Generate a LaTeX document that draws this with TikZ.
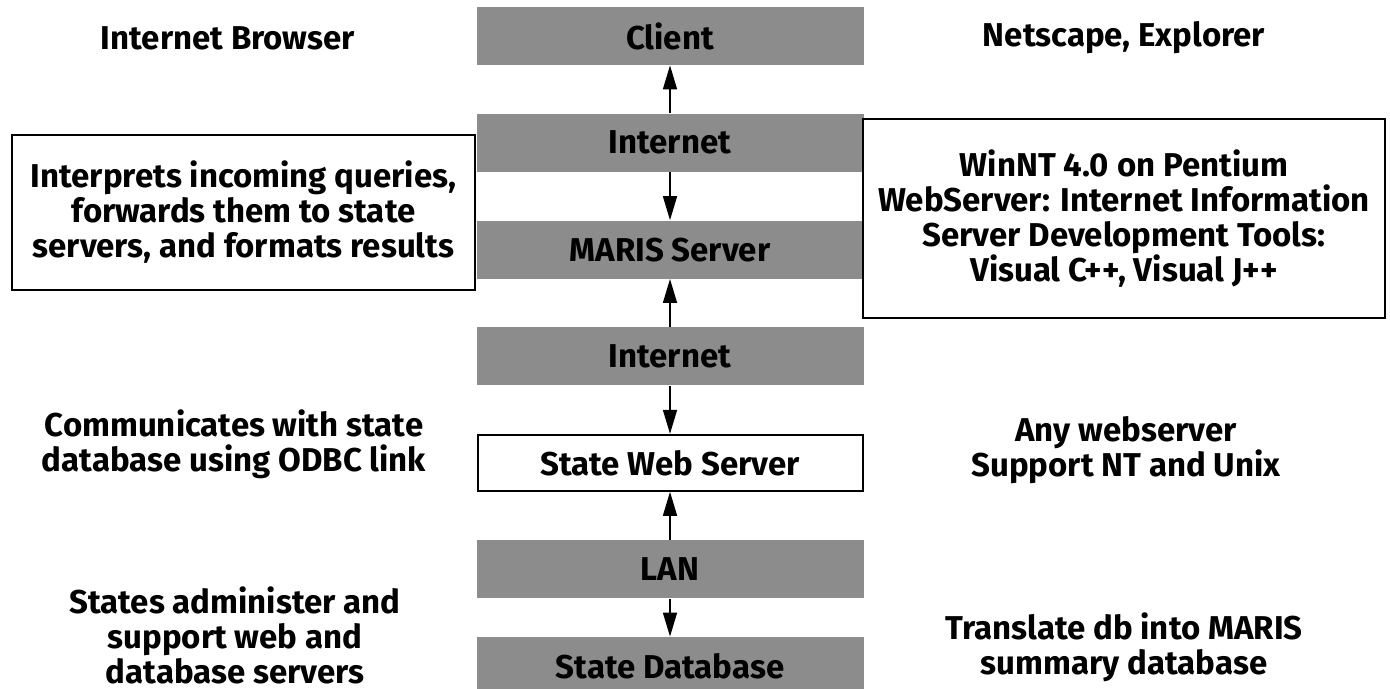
\documentclass[tikz,border=0pt]{standalone}
\usepackage{fontspec}
\setmainfont{Fira Sans}
\usetikzlibrary{positioning}
\usetikzlibrary{arrows.meta}

\tikzset{
  layer/.style={fill=black!45, minimum width=193.5pt, minimum height=29pt, inner sep=0pt},
  webbox/.style={draw, line width=1pt, fill=white, minimum width=192.5pt, minimum height=28pt, inner sep=0pt},
  note/.style={align=center},
  notebox/.style={draw, line width=1pt, fill=white, align=center, inner sep=0pt},
  link/.style={line width=0.8pt, -{Triangle[width=7pt,length=12pt]}}
}

\begin{document}
\begin{tikzpicture}[x=0.5pt,y=-0.5pt,font=\bfseries\fontsize{16.5}{17.5}\selectfont,node distance=24pt]
\useasboundingbox (0,0) rectangle (1390,689);

% Place nodes
\node [layer] (client) at (670,36) {Client};
\node [layer,below=of client] (net1) {Internet};
\node [layer,below=of net1] (maris) {MARIS Server};
\node [layer,below=of maris] (net2) {Internet};
\node [webbox,below=of net2] (web) {State Web Server};
\node [layer,below=of web] (lan) {LAN};
\node [layer,below=19pt of lan] (db) {State Database};

% side notes
\node [note] (browser) at (228,38) {Internet Browser};
\node [note] (netscape) at (1124,38) {Netscape, Explorer};
\node [notebox,minimum width=231.5pt,minimum height=77.5pt] (interp) at (243.5,212.5)
  {Interprets incoming queries,\\forwards them to state\\servers, and formats results};
\node [notebox,minimum width=261pt,minimum height=99.5pt] (winnt) at (1124,218.5)
  {WinNT 4.0 on Pentium\\WebServer: Internet Information\\Server Development Tools:\\Visual C++, Visual J++};
\node [note] (odbc) at (234,444) {Communicates with state\\database using ODBC link};
\node [note] (anyweb) at (1126,450) {Any webserver\\Support NT and Unix};
\node [note] (admin) at (235,635) {States administer and\\support web and\\database servers};
\node [note] (translate) at (1124,647) {Translate db into MARIS\\summary database};

% links
\draw [link] (net1) -- (client);
\draw [link] (net1) -- (maris);
\draw [link] (net2) -- (maris);
\draw [link] (net2) -- (web);
\draw [link] (lan) -- (web);
\draw [link] (lan) -- (db);

\end{tikzpicture}
\end{document}
